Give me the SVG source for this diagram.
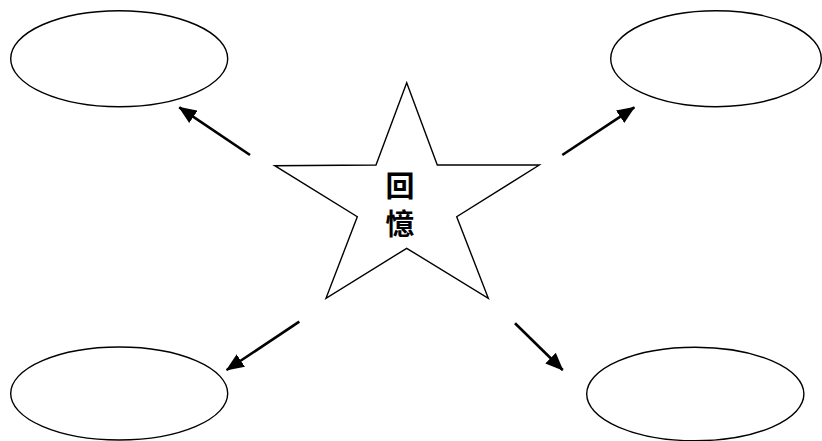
<svg xmlns="http://www.w3.org/2000/svg" width="822" height="441" viewBox="0 0 822 441">
<style>
.node{fill:#fff;stroke:#000;stroke-width:1.4}
.conn{stroke:#000;stroke-width:2.6;fill:none}
.lbl{font-family:"Noto Sans CJK TC","Noto Sans CJK SC",serif;font-size:29px;font-weight:bold;fill:#000;text-anchor:middle}
</style>
<defs>
<marker id="ah" markerUnits="userSpaceOnUse" markerWidth="18" markerHeight="15" refX="17" refY="7.5" orient="auto">
<path d="M0,0 L18,7.5 L0,15 z" fill="#000"/>
</marker>
</defs>
<rect width="822" height="441" fill="#fff"/>
<g id="node-tl"><ellipse class="node" cx="119.2" cy="58.7" rx="108.5" ry="48"/></g>
<g id="node-tr"><ellipse class="node" cx="716" cy="58.7" rx="105.3" ry="48"/></g>
<g id="node-bl"><ellipse class="node" cx="119.2" cy="393.5" rx="108.5" ry="46.5"/></g>
<g id="node-br"><ellipse class="node" cx="695.3" cy="394" rx="108.6" ry="46.7"/></g>
<g id="node-star">
<polygon class="node" stroke-width="1.3" points="406.7,82.7 437.3,165 539.3,165 456.7,216.7 488.3,298.3 406.7,248.3 326,298.3 357.3,216.7 274.7,165.7 376,165"/>
<text class="lbl" x="400" y="197"><tspan x="400" y="197">回</tspan><tspan x="400" y="235">憶</tspan></text>
</g>
<g id="connectors">
<line class="conn" x1="250" y1="155" x2="179.3" y2="107.3" marker-end="url(#ah)"/>
<line class="conn" x1="562.3" y1="155" x2="634.3" y2="107.3" marker-end="url(#ah)"/>
<line class="conn" x1="299.3" y1="321.7" x2="226.7" y2="370" marker-end="url(#ah)"/>
<line class="conn" x1="515" y1="323.3" x2="562.7" y2="370" marker-end="url(#ah)"/>
</g>
</svg>
